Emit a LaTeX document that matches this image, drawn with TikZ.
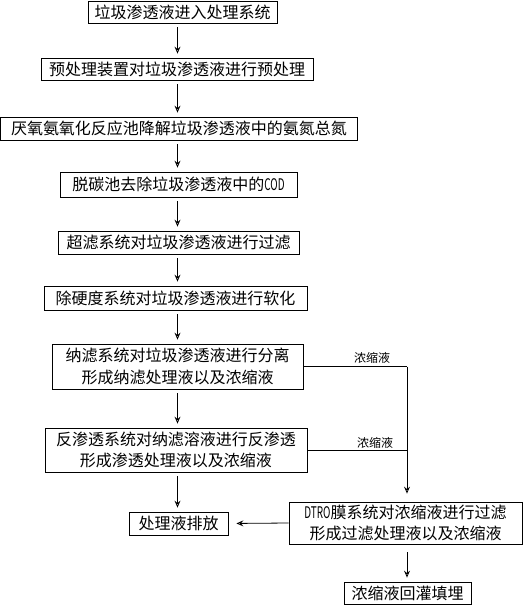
\documentclass[tikz,border=0pt]{standalone}
\usepackage{fontspec}
\usepackage{graphicx}
\setmainfont{Noto Sans CJK SC}
\usetikzlibrary{arrows.meta}
\tikzset{
  box/.style={draw, line width=0.8pt, inner sep=0pt, align=center, font=\fontsize{16}{21.5}\selectfont},
  arr/.style={-{Stealth[open, length=7pt, width=6pt, inset=2.5pt]}, line width=0.8pt},
  ln/.style={line width=0.8pt},
  lbl/.style={font=\fontsize{12}{13}\selectfont, inner sep=0pt}
}
\newcommand{\cond}[1]{\scalebox{0.62}[1]{#1}}
\begin{document}
\begin{tikzpicture}[x=1pt, y=-1pt]
\useasboundingbox (0,0) rectangle (529,605);
\node[box, minimum width=189pt, minimum height=22pt] (b1) at (182.5,12) {垃圾渗透液进入处理系统};
\node[box, minimum width=272pt, minimum height=22pt] (b2) at (177,69) {预处理装置对垃圾渗透液进行预处理};
\node[box, minimum width=357pt, minimum height=23pt] (b3) at (179,128.5) {厌氧氨氧化反应池降解垃圾渗透液中的氨氮总氮};
\node[box, minimum width=237pt, minimum height=25pt] (b4) at (178.5,184.5) {脱碳池去除垃圾渗透液中的\cond{COD}};
\node[box, minimum width=241pt, minimum height=23pt] (b5) at (178.5,242.5) {超滤系统对垃圾渗透液进行过滤};
\node[box, minimum width=263pt, minimum height=24pt] (b6) at (175.5,298) {除硬度系统对垃圾渗透液进行软化};
\node[box, minimum width=251pt, minimum height=45pt] (b7) at (177.5,366.5) {纳滤系统对垃圾渗透液进行分离\\形成纳滤处理液以及浓缩液};
\node[box, minimum width=262pt, minimum height=44pt] (b8) at (176,450) {反渗透系统对纳滤溶液进行反渗透\\形成渗透处理液以及浓缩液};
\node[box, minimum width=99pt, minimum height=23pt] (b9) at (178.5,523.5) {处理液排放};
\node[box, minimum width=233pt, minimum height=42pt] (b10) at (405.5,523) {\cond{DTRO}膜系统对浓缩液进行过滤\\形成过滤处理液以及浓缩液};
\node[box, minimum width=127pt, minimum height=22pt] (b11) at (407.5,593) {浓缩液回灌填埋};
\coordinate (col) at (177.5,0);
\coordinate (rcol) at (407,0);
\foreach \a/\b in {b1/b2,b2/b3,b3/b4,b4/b5,b5/b6,b6/b7,b7/b8,b8/b9}{
  \draw[arr, shorten <=4pt, shorten >=4pt] (\a.south -| col) -- (\b.north -| col);
}
\draw[ln] (b7.east) -- (b7.east -| rcol) coordinate (j1);
\draw[ln] (b8.east) -- (b8.east -| rcol) coordinate (j2);
\draw[arr, shorten >=8pt] (j1) -- (b10.north -| rcol);
\draw[arr, shorten >=8pt] (b10.west) -- (b9.east);
\draw[arr, shorten <=8pt, shorten >=4pt] (b10.south -| rcol) -- (b11.north -| rcol);
\node[lbl] (l1) at (372,358) {浓缩液};
\node[lbl] (l2) at (375,443) {浓缩液};
\end{tikzpicture}
\end{document}
